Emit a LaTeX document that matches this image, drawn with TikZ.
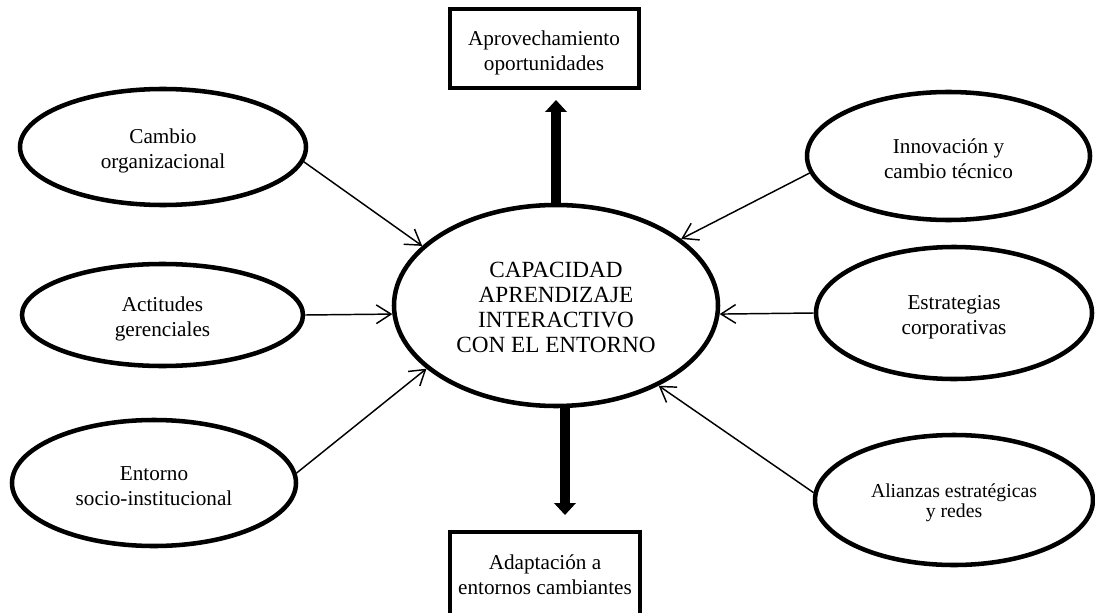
\documentclass[tikz,border=0pt]{standalone}
\usepackage{fontspec}
\setmainfont{Liberation Serif}
\usetikzlibrary{shapes.geometric,arrows.meta}
\newcommand\lowA{\rule{0pt}{17.5pt}}
\newcommand\lowB{\rule{0pt}{14.5pt}}
\begin{document}
\begin{tikzpicture}[x=0.75pt,y=-0.75pt,
  oval/.style={ellipse,draw,line width=3.4pt,inner sep=0pt,align=center,
    font=\fontsize{15.9}{18.75}\selectfont},
  boxnode/.style={rectangle,draw,line width=3pt,inner sep=0pt,align=center,
    font=\fontsize{15.9}{18.75}\selectfont},
  thinarrow/.style={line width=1.1pt,-{Straight Barb[length=11pt,width=14pt]}},
  bigarrow/.style={line width=7.5pt,-{Triangle[length=9pt,width=16pt]}}]
\clip (0,0) rectangle (1095,613);
\fill[white] (0,0) rectangle (1095,613);

\node[oval,minimum width=243pt,minimum height=150.75pt,
  font=\fontsize{17.4}{18.75}\selectfont] (central) at (556,305.5)
  {\lowB CAPACIDAD\\APRENDIZAJE\\INTERACTIVO\\CON EL ENTORNO};

\node[oval,minimum width=214.5pt,minimum height=87pt] (cambio) at (163,147)
  {\lowA Cambio\\organizacional};
\node[oval,minimum width=210.75pt,minimum height=76.5pt] (actitudes) at (162.5,315)
  {\lowA Actitudes\\gerenciales};
\node[oval,minimum width=213pt,minimum height=94.5pt] (entorno) at (154,483)
  {\lowB Entorno\\socio-institucional};

\node[oval,minimum width=212.25pt,minimum height=96pt] (innov) at (948.5,156)
  {\lowB Innovación y\\cambio técnico};
\node[oval,minimum width=207pt,minimum height=99pt] (estrat) at (954,313)
  {\lowA Estrategias\\corporativas};
\node[oval,minimum width=208.5pt,minimum height=97.5pt,
  font=\fontsize{14.8}{15}\selectfont] (alianzas) at (954,500)
  {\lowB Alianzas estratégicas\\y redes};

\node[boxnode,minimum width=141.75pt,minimum height=59.25pt] (topbox) at (544,48.5)
  {\lowA Aprovechamiento\\oportunidades};
\node[boxnode,minimum width=142.5pt,minimum height=64.5pt] (botbox) at (545,575)
  {Adaptación a\\entornos cambiantes};

\draw[thinarrow] (cambio.-6) -- (central.156);
\draw[thinarrow] (actitudes.east) -- (central.183);
\draw[thinarrow] (entorno.4) -- (central.206.7);
\draw[thinarrow] (innov.187) -- (central.28);
\draw[thinarrow] (estrat.west) -- (central.-3);
\draw[thinarrow] (alianzas.177) -- (central.-38);

\draw[bigarrow,shorten >=7.5pt] (central.north) -- (central.north |- topbox.south);
\draw[bigarrow,shorten >=11.25pt] (central.-85) -- (central.-85 |- botbox.north);
\end{tikzpicture}
\end{document}
